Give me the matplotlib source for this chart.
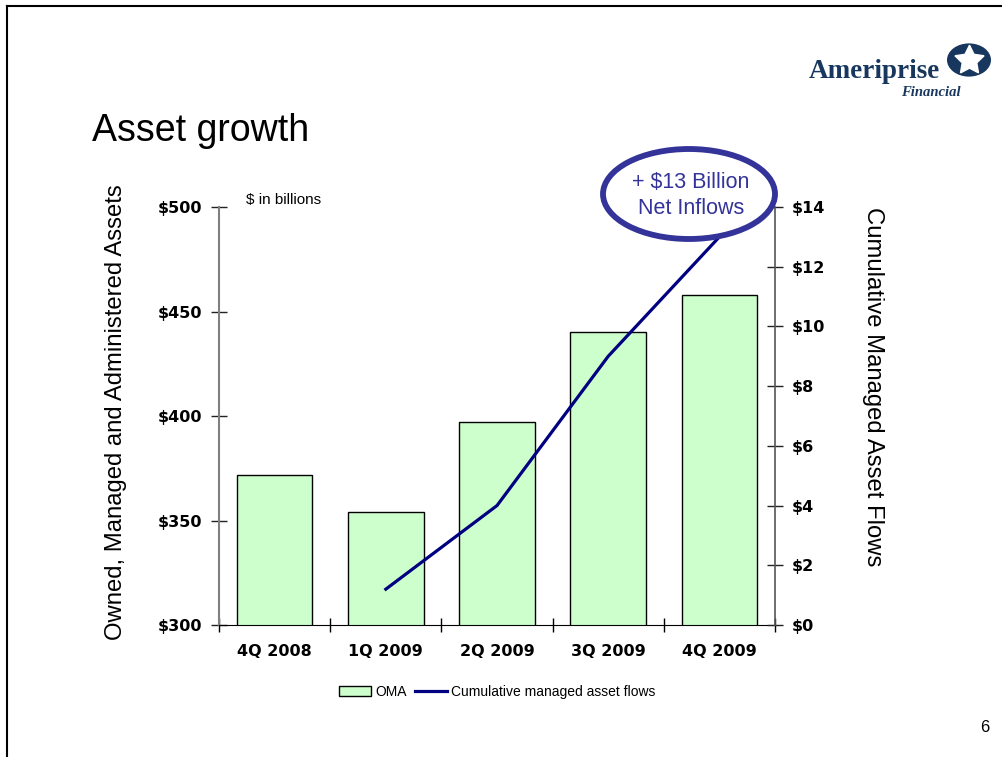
import numpy as np
import matplotlib.pyplot as plt
from matplotlib.patches import Ellipse, Circle
from matplotlib.lines import Line2D

# ---------------- data ----------------
quarters = ["4Q 2008", "1Q 2009", "2Q 2009", "3Q 2009", "4Q 2009"]
oma = [372, 354, 397, 440, 458]                 # $ billions, left axis
flow_quarters = ["1Q 2009", "2Q 2009", "3Q 2009", "4Q 2009"]
cum_flows = [1.2, 4.0, 9.0, 13.0]              # $ billions, right axis

left_ticks = [300, 350, 400, 450, 500]
right_ticks = [0, 2, 4, 6, 8, 10, 12, 14]

W, H = 1003, 757
bar_color = "#ccffcc"
line_color = "#000080"
callout_color = "#333399"
logo_color = "#17375e"
sans = "Liberation Sans"

fig = plt.figure(figsize=(W / 100, H / 100), dpi=100)


def px(x, y):
    return x / W, 1 - y / H


# slide border (top and left edges)
fig.add_artist(Line2D([7 / W, 1.0], [1 - 6 / H] * 2, color="black", lw=1.5))
fig.add_artist(Line2D([7 / W] * 2, [1 - 6 / H, 0.0], color="black", lw=1.5))

ax = fig.add_axes([219 / W, 1 - 625 / H, 556 / W, 418 / H])
x = np.arange(len(quarters))
ax.bar(x, oma, width=0.68, color=bar_color, edgecolor="black", linewidth=1,
       label="OMA", zorder=2)
ax.set_ylim(300, 500)
ax.set_xlim(-0.5, len(quarters) - 0.5)
ax.set_yticks(left_ticks)
ax.set_yticklabels([f"${v}" for v in left_ticks], fontweight="bold", fontsize=11.5)
ax.set_xticks(x)
ax.set_xticklabels(quarters, fontweight="bold", fontsize=11.5)
ax.set_xticks(np.arange(-0.5, len(quarters)), minor=True)
ax.tick_params(axis="x", which="major", length=0, pad=14)
ax.tick_params(axis="x", which="minor", direction="inout", length=10, width=1)
ax.tick_params(axis="y", direction="inout", length=12, width=1, pad=6,
               color="#222222")
ax.spines["top"].set_visible(False)
ax.spines["right"].set_visible(False)
ax.spines["left"].set_color("#808080")
ax.spines["left"].set_linewidth(1.5)
ax.spines["bottom"].set_color("black")
ax.set_ylabel("Owned, Managed and Administered Assets", fontsize=17.2,
              family=sans, va="center")
ax.yaxis.set_label_coords(-0.185, 0.51)

ax2 = ax.twinx()
fx = [quarters.index(q) for q in flow_quarters]
ax2.plot(fx, cum_flows, color=line_color, lw=2.3,
         label="Cumulative managed asset flows", zorder=3)
ax2.set_ylim(0, 14)
ax2.set_yticks(right_ticks)
ax2.set_yticklabels([f"${v}" for v in right_ticks], fontweight="bold", fontsize=11.5)
ax2.tick_params(axis="y", direction="inout", length=12, width=1, pad=6,
                color="#222222")
for s in ["top", "left", "bottom"]:
    ax2.spines[s].set_visible(False)
ax2.spines["right"].set_color("#555555")
ax2.spines["right"].set_linewidth(1.2)
ax2.set_ylabel("Cumulative Managed Asset Flows", fontsize=17.2, family=sans,
               rotation=-90, va="center")
ax2.yaxis.set_label_coords(1.177, 0.57)

# legend below the plot
h1, l1 = ax.get_legend_handles_labels()
h2, l2 = ax2.get_legend_handles_labels()
fig.legend(h1 + h2, l1 + l2, loc="center", bbox_to_anchor=px(497, 692),
           ncol=2, frameon=False, prop={"family": sans, "size": 10},
           handlelength=2.3, handletextpad=0.3, columnspacing=0.6)

# callout ellipse
ell = Ellipse(px(689, 194), 172 / W, 90 / H, transform=fig.transFigure,
              facecolor="white", edgecolor=callout_color, lw=4.2, zorder=10)
fig.add_artist(ell)
fig.text(*px(691, 183), "+ $13 Billion", ha="center", va="center",
         fontsize=15.5, family=sans, color=callout_color, zorder=11)
fig.text(*px(691, 208), "Net Inflows", ha="center", va="center",
         fontsize=15.5, family=sans, color=callout_color, zorder=11)

# titles and notes
fig.text(*px(92, 131), "Asset growth", ha="left", va="center", fontsize=27,
         family=sans)
fig.text(*px(246, 200), "$ in billions", ha="left", va="center", fontsize=11,
         family=sans)
fig.text(*px(989, 727), "6", ha="right", va="center", fontsize=12, family=sans)

# logo
fig.text(*px(874, 72), "Ameriprise", ha="center", va="center", fontsize=19.5,
         family="Liberation Serif", fontweight="heavy", color=logo_color)
fig.text(*px(931, 93), "Financial", ha="center", va="center", fontsize=10.5,
         family="Liberation Serif", fontweight="heavy", style="italic",
         color=logo_color)
fig.add_artist(Circle(px(969, 60), 22 / W, transform=fig.transFigure,
                      facecolor=logo_color, edgecolor="none"))
fig.add_artist(Line2D([969 / W], [1 - 60 / H], marker=(5, 1, 0), markersize=22,
                      color="white", markeredgecolor="white"))

fig.savefig("out.png", dpi=100)
